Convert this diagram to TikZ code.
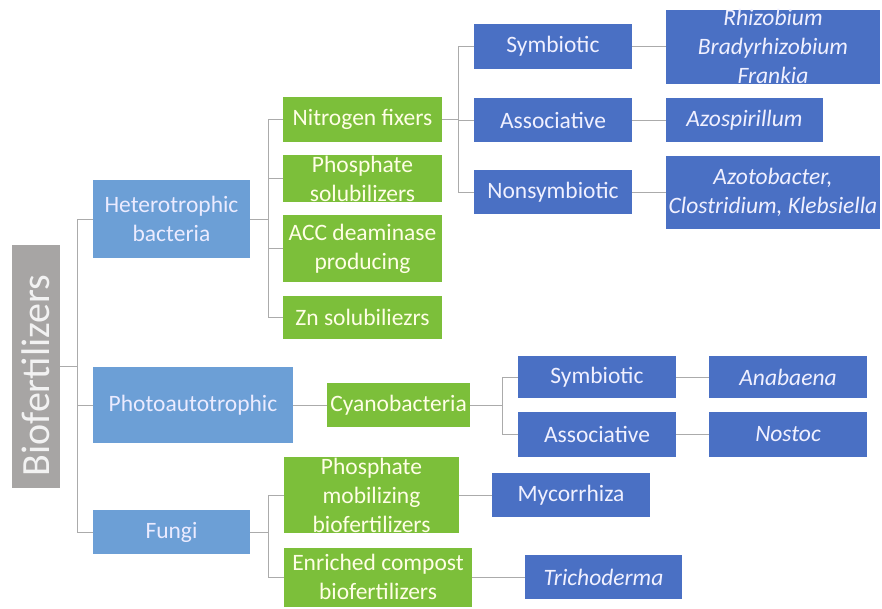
\documentclass[tikz,border=0pt]{standalone}
\usepackage{fontspec}
\setmainfont{Carlito}

\definecolor{biogray}{HTML}{A7A5A4}
\definecolor{lightblue}{HTML}{6C9FD6}
\definecolor{leafgreen}{HTML}{7CBF3A}
\definecolor{darkblue}{HTML}{4A70C4}
\definecolor{linegray}{HTML}{ABABAB}

\begin{document}
\begin{tikzpicture}[x=1pt,y=-1pt,
    box/.style={inner sep=0pt,outer sep=0pt},
    gbox/.style={box,fill=biogray},
    hbox/.style={box,fill=lightblue},
    fbox/.style={box,fill=leafgreen},
    bbox/.style={box,fill=darkblue},
    txt/.style={align=center,inner sep=0pt,font=\fontsize{23.5}{29}\selectfont},
    htxt/.style={txt,text=blue!8!white},
    ftxt/.style={txt,text=yellow!10!white},
    btxt/.style={txt,text=blue!6!white},
    link/.style={draw=linegray,line width=0.9pt}]
    \useasboundingbox (0,0) rectangle (882,608);

    % level 0 and 1
    \node[gbox,minimum width=48,minimum height=243,
      label={[txt,yshift=-9pt,rotate=90,text=gray!10!white,font=\fontsize{40}{44}\selectfont]center:Biofertilizers}] (bio) at (36,366.5) {};
    \node[hbox,minimum width=157,minimum height=78,label={[htxt]center:Heterotrophic\\bacteria}] (het) at (171.5,219) {};
    \node[hbox,minimum width=200,minimum height=76,label={[htxt]center:Photoautotrophic}] (pho) at (193,405) {};
    \node[hbox,minimum width=157,minimum height=44,label={[htxt]center:Fungi}] (fun) at (171.5,532) {};

    % level 2
    \node[fbox,minimum width=159,minimum height=45,label={[ftxt]center:Nitrogen fixers}] (nfix) at (362.5,119.5) {};
    \node[fbox,minimum width=159,minimum height=47,label={[ftxt]center:Phosphate\\solubilizers}] (psol) at (362.5,178.5) {};
    \node[fbox,minimum width=159,minimum height=67,label={[ftxt]center:ACC deaminase\\producing}] (acc) at (362.5,248.5) {};
    \node[fbox,minimum width=159,minimum height=43,label={[ftxt]center:Zn solubiliezrs}] (zn) at (362.5,317) {};
    \node[fbox,minimum width=143,minimum height=44,label={[ftxt]center:Cyanobacteria}] (cya) at (398.5,405) {};
    \node[fbox,minimum width=175,minimum height=76,label={[ftxt]center:Phosphate\\mobilizing\\biofertilizers}] (pmob) at (371.5,495) {};
    \node[fbox,minimum width=188,minimum height=59,label={[ftxt]center:Enriched compost\\biofertilizers}] (enr) at (378,577) {};

    % level 3
    \node[bbox,minimum width=158,minimum height=45,label={[btxt]center:Symbiotic}] (sym1) at (553,46.5) {};
    \node[bbox,minimum width=158,minimum height=44,label={[btxt]center:Associative}] (ass1) at (553,120) {};
    \node[bbox,minimum width=158,minimum height=44,label={[btxt]center:Nonsymbiotic}] (non1) at (553,192) {};
    \node[bbox,minimum width=158,minimum height=42,label={[btxt]center:Symbiotic}] (sym2) at (597,377) {};
    \node[bbox,minimum width=158,minimum height=45,label={[btxt]center:Associative}] (ass2) at (597,434.5) {};
    \node[bbox,minimum width=158,minimum height=44,label={[btxt]center:Mycorrhiza}] (myc) at (571,495) {};

    % level 4
    \node[bbox,minimum width=214,minimum height=74,label={[btxt]center:\itshape Rhizobium\\\itshape Bradyrhizobium\\\itshape Frankia}] (rhi) at (773,46.5) {};
    \node[bbox,minimum width=157,minimum height=44,label={[btxt]center:\itshape Azospirillum}] (azs) at (744.5,120) {};
    \node[bbox,minimum width=214,minimum height=73,label={[btxt]center:\itshape Azotobacter,\\\itshape Clostridium, Klebsiella}] (azt) at (773,192) {};
    \node[bbox,minimum width=158,minimum height=42,label={[btxt]center:\itshape Anabaena}] (ana) at (788,377) {};
    \node[bbox,minimum width=158,minimum height=45,label={[btxt]center:\itshape Nostoc}] (nos) at (788,434.5) {};
    \node[bbox,minimum width=157,minimum height=44,label={[btxt]center:\itshape Trichoderma}] (tri) at (603.5,577) {};

    % junctions
    \coordinate (bioJ) at (77,366.5);
    \coordinate (hetJ) at (268,219);
    \coordinate (nfixJ) at (458,119.5);
    \coordinate (cyaJ) at (502,405);
    \coordinate (funJ) at (268,532);

    \path[link]
    (bio.east) -- (bioJ)
    (bioJ) |- (het.west) (bioJ) |- (pho.west) (bioJ) |- (fun.west)

    (het.east) -- (hetJ)
    (hetJ) |- (nfix.west) (hetJ) |- (psol.west) (hetJ) |- (acc.west) (hetJ) |- (zn.west)

    (nfix.east) -- (nfixJ)
    (nfixJ) |- (sym1.west) (nfixJ) |- (ass1.west) (nfixJ) |- (non1.west)
    (sym1.east) -- (rhi.west) (ass1.east) -- (azs.west) (non1.east) -- (azt.west)

    (pho.east) -- (cya.west)
    (cya.east) -- (cyaJ)
    (cyaJ) |- (sym2.west) (cyaJ) |- (ass2.west)
    (sym2.east) -- (ana.west) (ass2.east) -- (nos.west)

    (fun.east) -- (funJ)
    (funJ) |- (pmob.west) (funJ) |- (enr.west)
    (pmob.east) -- (myc.west) (enr.east) -- (tri.west)
    ;
\end{tikzpicture}
\end{document}
